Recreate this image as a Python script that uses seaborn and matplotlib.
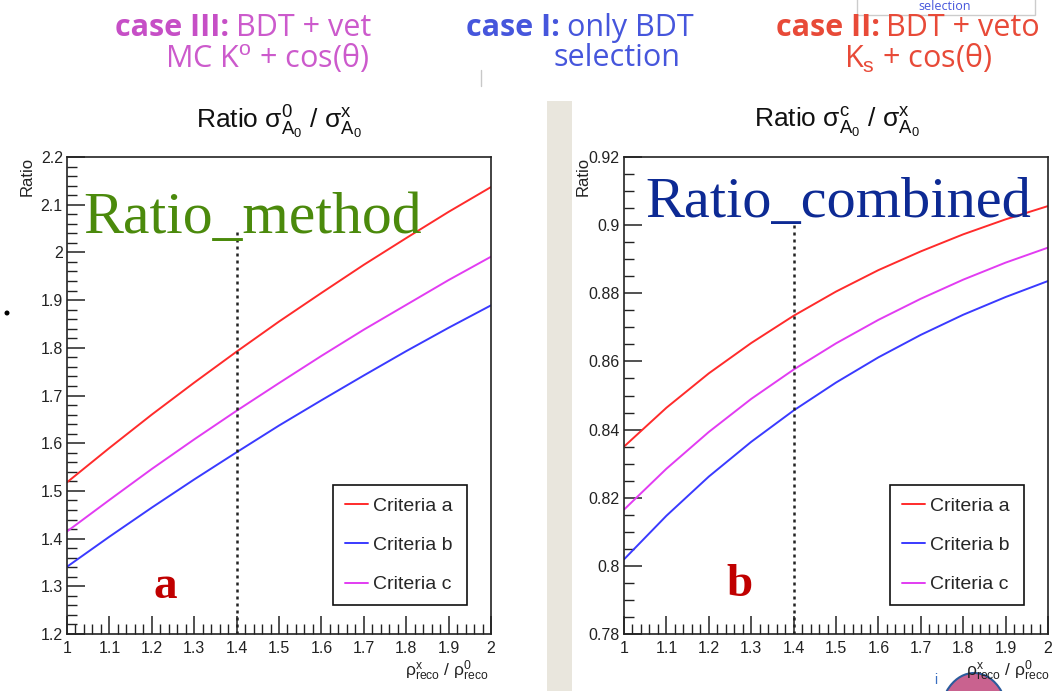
import numpy as np
import pandas as pd
import matplotlib
matplotlib.use("Agg")
import matplotlib.pyplot as plt
import seaborn as sns
from matplotlib.ticker import MultipleLocator, FuncFormatter
from matplotlib.patches import Rectangle, Ellipse
from matplotlib.lines import Line2D

# ---------------- data ----------------
rho_ratio = [1.0, 1.1, 1.2, 1.3, 1.4, 1.5, 1.6, 1.7, 1.8, 1.9, 2.0]

method_a = [1.518, 1.590, 1.660, 1.727, 1.792, 1.855, 1.915, 1.974, 2.030, 2.085, 2.137]
method_b = [1.341, 1.404, 1.465, 1.524, 1.581, 1.637, 1.690, 1.742, 1.793, 1.842, 1.889]
method_c = [1.415, 1.481, 1.546, 1.608, 1.668, 1.726, 1.783, 1.838, 1.890, 1.942, 1.991]

combined_a = [0.8350, 0.8464, 0.8565, 0.8654, 0.8734, 0.8805, 0.8868, 0.8923, 0.8973, 0.9017, 0.9056]
combined_b = [0.8019, 0.8147, 0.8262, 0.8364, 0.8456, 0.8538, 0.8612, 0.8678, 0.8737, 0.8789, 0.8836]
combined_c = [0.8165, 0.8285, 0.8393, 0.8490, 0.8576, 0.8653, 0.8722, 0.8784, 0.8840, 0.8890, 0.8934]

criteria = ["Criteria a", "Criteria b", "Criteria c"]
cut_value = 1.4
cut_top_method = 2.05
cut_top_combined = 0.90

colors = ["#ff2b2b", "#3a3aff", "#e23cf2"]

# ---------------- style ----------------
sns.set_theme(style="ticks")
plt.rcParams["font.family"] = ["Liberation Sans", "DejaVu Sans"]
plt.rcParams["mathtext.fontset"] = "custom"
plt.rcParams["mathtext.rm"] = "Liberation Sans"
plt.rcParams["mathtext.it"] = "Liberation Sans:italic"
plt.rcParams["mathtext.sf"] = "Liberation Sans"

W, H = 1054, 691
fig = plt.figure(figsize=(W / 100, H / 100), dpi=100)
fig.patch.set_facecolor("white")


def rect(x0, y0, x1, y1):
    return [x0 / W, 1 - y1 / H, (x1 - x0) / W, (y1 - y0) / H]


def fx(px):
    return px / W


def fy(py):
    return 1 - py / H


# beige strip between the panels
fig.patches.append(Rectangle((fx(547), 0), 25 / W, fy(101), transform=fig.transFigure,
                             facecolor="#e9e6dd", edgecolor="none", zorder=0))

ax1 = fig.add_axes(rect(67, 157, 491, 634))
ax2 = fig.add_axes(rect(624, 157, 1048, 634))


def long_df(a, b, c):
    return pd.DataFrame({
        "rho": rho_ratio * 3,
        "ratio": list(a) + list(b) + list(c),
        "criteria": [criteria[0]] * len(a) + [criteria[1]] * len(b) + [criteria[2]] * len(c),
    })


fmt = FuncFormatter(lambda v, p: f"{round(v, 4):g}")

for ax, df, ylim, ymaj, ymin, cut_top in [
    (ax1, long_df(method_a, method_b, method_c), (1.2, 2.2), 0.1, 0.02, cut_top_method),
    (ax2, long_df(combined_a, combined_b, combined_c), (0.78, 0.92), 0.02, 0.005, cut_top_combined),
]:
    sns.lineplot(data=df, x="rho", y="ratio", hue="criteria", palette=colors,
                 linewidth=1.4, ax=ax, legend=False)
    ax.vlines(cut_value, ylim[0], cut_top, colors="#222222", linestyles=(0, (1.2, 1.6)), linewidth=1.8)
    ax.set_xlim(1, 2)
    ax.set_ylim(*ylim)
    ax.set_xlabel("")
    ax.set_ylabel("")
    ax.xaxis.set_major_locator(MultipleLocator(0.1))
    ax.xaxis.set_minor_locator(MultipleLocator(0.02))
    ax.yaxis.set_major_locator(MultipleLocator(ymaj))
    ax.yaxis.set_minor_locator(MultipleLocator(ymin))
    ax.xaxis.set_major_formatter(fmt)
    ax.yaxis.set_major_formatter(fmt)
    ax.tick_params(which="major", direction="in", length=13, width=1.1, color="#222222",
                   labelsize=11.5, top=False, right=False, labelcolor="#222222")
    ax.tick_params(which="minor", direction="in", length=7, width=1.0, color="#222222",
                   top=False, right=False)
    ax.tick_params(axis="x", which="major", pad=5)
    ax.tick_params(axis="y", which="major", pad=3)
    for s in ax.spines.values():
        s.set_linewidth(1.2)
        s.set_color("#222222")
    handles = [Line2D([], [], color=c, lw=1.4) for c in colors]
    leg = ax.legend(handles, criteria, loc="upper left", bbox_to_anchor=(0.627, 0.0, 0.316, 0.3124),
                    mode="expand", frameon=True, fancybox=False, edgecolor="#111111", framealpha=1,
                    fontsize=14, handlelength=1.2, handletextpad=0.25, labelspacing=1.12,
                    borderpad=0.62, borderaxespad=0)
    leg.get_frame().set_linewidth(1.2)

# titles
fig.text(fx(279), fy(122), r"Ratio $\mathrm{σ}^{\mathrm{0}}_{\mathrm{A}_{\mathrm{0}}}$ / $\mathrm{σ}^{\mathrm{x}}_{\mathrm{A}_{\mathrm{0}}}$",
         ha="center", va="center", fontsize=19, color="#111111")
fig.text(fx(837), fy(122), r"Ratio $\mathrm{σ}^{\mathrm{c}}_{\mathrm{A}_{\mathrm{0}}}$ / $\mathrm{σ}^{\mathrm{x}}_{\mathrm{A}_{\mathrm{0}}}$",
         ha="center", va="center", fontsize=19, color="#111111")

# y-axis titles
fig.text(fx(27), fy(157), "Ratio", rotation=90, ha="center", va="top", fontsize=12, color="#222222")
fig.text(fx(583), fy(157), "Ratio", rotation=90, ha="center", va="top", fontsize=12, color="#222222")

# pink blob bottom right
fig.patches.append(Ellipse((fx(974), fy(718)), 68 / W, 90 / H, transform=fig.transFigure,
                           facecolor="#c9628f", edgecolor="#2b5b9c", linewidth=1.5, zorder=1))
fig.text(fx(936), fy(680), "i", fontsize=10, color="#3a6fc0", ha="center", va="center")

# x-axis titles
xl = r"$\mathrm{ρ}^{\mathrm{x}}_{\mathrm{reco}}$ / $\mathrm{ρ}^{\mathrm{0}}_{\mathrm{reco}}$"
fig.text(fx(489), fy(659), xl, ha="right", va="top", fontsize=12.5, color="#222222", zorder=5)
fig.text(fx(1050), fy(659), xl, ha="right", va="top", fontsize=12.5, color="#222222", zorder=5)

# overlaid annotations
fig.text(fx(83), fy(233), "Ratio_method", family=["Liberation Serif"], fontsize=43,
         color="#4b8a0c", ha="left", va="baseline")
fig.text(fx(645), fy(217), "Ratio_combined", family=["Liberation Serif"], fontsize=42,
         color="#0d2a94", ha="left", va="baseline")
fig.text(fx(165), fy(587), "a", family=["Liberation Serif"], fontweight="bold", fontsize=34,
         color="#c00000", ha="center", va="center")
fig.text(fx(740), fy(585), "b", family=["Liberation Serif"], fontweight="bold", fontsize=34,
         color="#c00000", ha="center", va="center")

# bullet dot
fig.patches.append(Ellipse((fx(7), fy(313)), 5 / W, 5 / H, transform=fig.transFigure,
                           facecolor="black", edgecolor="none"))

# header texts
hf = ["Open Sans", "DejaVu Sans"]
hs = 22
mag, blu, red = "#cc5acc", "#4656dc", "#e84a38"
fig.text(fx(229), fy(28), "case III:", family=hf, fontweight="bold", fontsize=hs, color="#c64fc6",
         ha="right", va="center")
fig.text(fx(236), fy(28), "BDT + vet", family=hf, fontsize=hs, color=mag, ha="left", va="center")
fig.text(fx(267), fy(58), r"MC K$^{\mathrm{o}}$ + cos(θ)", family=hf, fontsize=hs, color=mag,
         ha="center", va="center")

fig.text(fx(560), fy(28), "case I:", family=hf, fontweight="bold", fontsize=hs, color=blu,
         ha="right", va="center")
fig.text(fx(567), fy(28), "only BDT", family=hf, fontsize=hs, color=blu, ha="left", va="center")
fig.text(fx(617), fy(58), "selection", family=hf, fontsize=hs, color=blu, ha="center", va="center")

fig.text(fx(880), fy(28), "case II:", family=hf, fontweight="bold", fontsize=hs, color=red,
         ha="right", va="center")
fig.text(fx(886), fy(28), "BDT + veto", family=hf, fontsize=hs, color=red, ha="left", va="center")
fig.text(fx(918), fy(58), r"K$_{\mathrm{s}}$ + cos(θ)", family=hf, fontsize=hs, color=red,
         ha="center", va="center")

# small box top-right with a partly hidden label
fig.patches.append(Rectangle((fx(857), fy(15)), 178 / W, 20 / H, transform=fig.transFigure,
                             facecolor="white", edgecolor="#cccccc", linewidth=1.0, zorder=2))
fig.text(fx(945), fy(7), "selection", family=hf, fontsize=9, color=blu, ha="center",
         va="center", zorder=3)

# separator line
fig.add_artist(Line2D([fx(481), fx(481)], [fy(70), fy(86)], transform=fig.transFigure,
                      color="#c8c8c8", linewidth=1.0))

fig.savefig("out.png", dpi=100, facecolor="white")
